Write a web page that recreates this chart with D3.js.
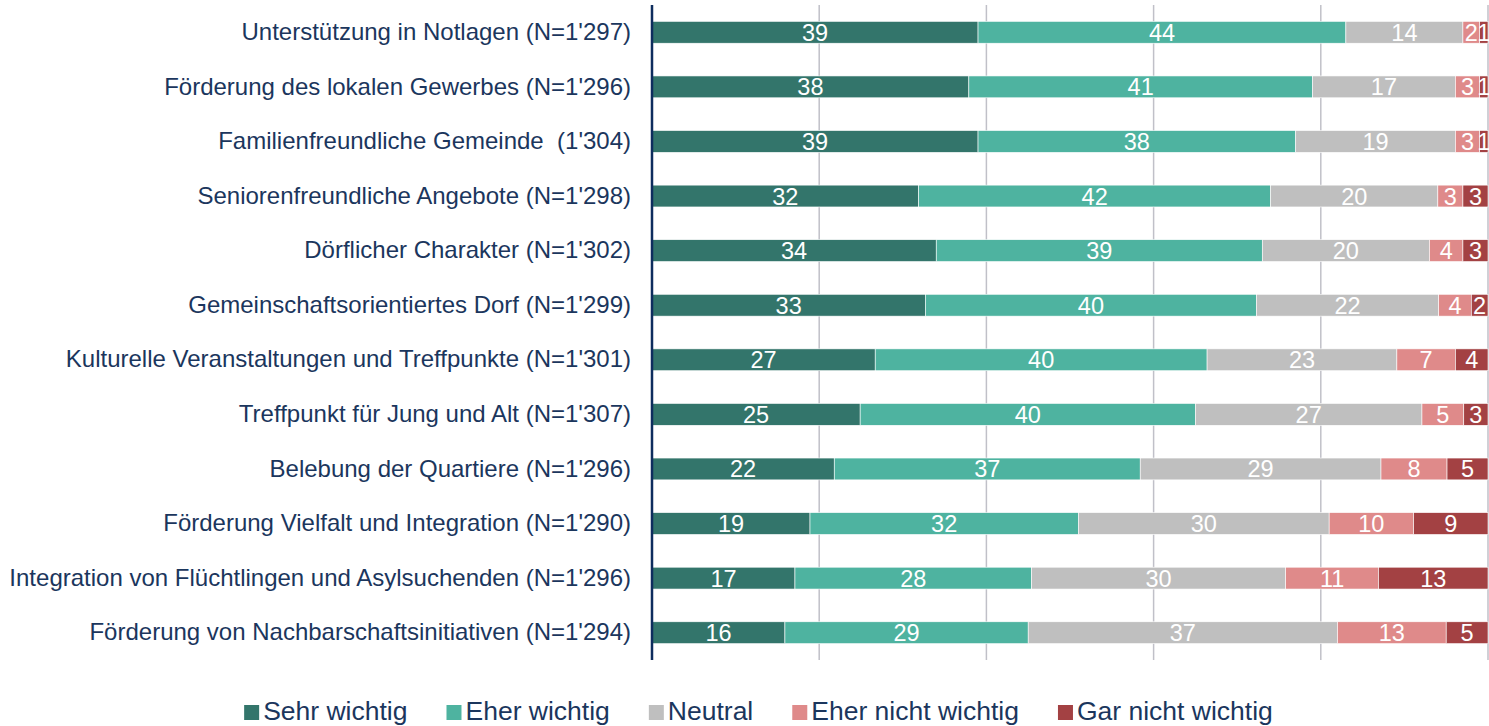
<!DOCTYPE html>
<html>
<head>
<meta charset="utf-8">
<script src="https://cdn.jsdelivr.net/npm/d3@7"></script>
<style>
  body { margin: 0; background: #fff; }
  svg text { font-family: "Liberation Sans", Arial, sans-serif; }
</style>
</head>
<body>
<div id="chart"></div>
<script>

// categories, top to bottom
var categories = [
  "Unterstützung in Notlagen (N=1'297)",
  "Förderung des lokalen Gewerbes (N=1'296)",
  "Familienfreundliche Gemeinde  (1'304)",
  "Seniorenfreundliche Angebote (N=1'298)",
  "Dörflicher Charakter (N=1'302)",
  "Gemeinschaftsorientiertes Dorf (N=1'299)",
  "Kulturelle Veranstaltungen und Treffpunkte (N=1'301)",
  "Treffpunkt für Jung und Alt (N=1'307)",
  "Belebung der Quartiere (N=1'296)",
  "Förderung Vielfalt und Integration (N=1'290)",
  "Integration von Flüchtlingen und Asylsuchenden (N=1'296)",
  "Förderung von Nachbarschaftsinitiativen (N=1'294)"
];

// shares in percent
var sehrWichtig      = [39.0, 37.9, 39.0, 31.9, 34.0, 32.7, 26.7, 24.9, 21.8, 18.9, 17.1, 15.9];
var eherWichtig      = [44.0, 41.1, 38.0, 42.1, 39.0, 39.6, 39.7, 40.1, 36.6, 32.1, 28.3, 29.1];
var neutral          = [14.0, 17.1, 19.1, 20.0, 20.0, 21.8, 22.7, 27.1, 28.8, 30.0, 30.4, 37.0];
var eherNichtWichtig = [ 2.0,  2.9,  2.9,  3.0,  4.0,  3.9,  7.0,  5.0,  7.9, 10.1, 11.1, 13.0];
var garNichtWichtig  = [ 1.0,  1.0,  1.0,  3.0,  3.0,  2.0,  3.9,  2.9,  4.9,  8.9, 13.1,  5.0];

var seriesNames  = ["Sehr wichtig", "Eher wichtig", "Neutral", "Eher nicht wichtig", "Gar nicht wichtig"];
var seriesColors = ["#33756B", "#4EB3A0", "#BFBFBF", "#DF8A8A", "#A34143"];
var gridTicks    = [0, 20, 40, 60, 80, 100];

var W = 1489, H = 726;
var textColor = "#1B365D";

var rows = categories.map(function(c, i) {
  return {
    cat: c,
    "Sehr wichtig": sehrWichtig[i],
    "Eher wichtig": eherWichtig[i],
    "Neutral": neutral[i],
    "Eher nicht wichtig": eherNichtWichtig[i],
    "Gar nicht wichtig": garNichtWichtig[i]
  };
});

var stacked = d3.stack().keys(seriesNames)(rows);

var x = d3.scaleLinear().domain([0, 100]).range([652, 1488]);
var y = d3.scaleBand()
          .domain(categories)
          .range([5, 660])
          .paddingInner(0.6)
          .paddingOuter(0.3);
var color = d3.scaleOrdinal().domain(seriesNames).range(seriesColors);

var svg = d3.select("#chart").append("svg")
    .attr("width", W)
    .attr("height", H);

// vertical gridlines
svg.append("g")
  .selectAll("line")
  .data(gridTicks.slice(1))
  .enter().append("line")
    .attr("x1", function(d) { return x(d); })
    .attr("x2", function(d) { return x(d); })
    .attr("y1", 5)
    .attr("y2", 660)
    .attr("stroke", "#C0C0C8")
    .attr("stroke-width", 1.5);

// bars
var layer = svg.append("g")
  .selectAll("g")
  .data(stacked)
  .enter().append("g")
    .attr("fill", function(d) { return color(d.key); });

layer.selectAll("rect")
    .data(function(d) { return d; })
  .enter().append("rect")
    .attr("x", function(d) { return x(d[0]); })
    .attr("y", function(d) { return y(d.data.cat); })
    .attr("width", function(d) { return x(d[1]) - x(d[0]); })
    .attr("height", y.bandwidth())
    .attr("stroke", "#fff")
    .attr("stroke-width", 0.6);

// value labels
layer.selectAll("text")
    .data(function(d) { return d; })
  .enter().append("text")
    .attr("x", function(d) { return (x(d[0]) + x(d[1])) / 2; })
    .attr("y", function(d) { return y(d.data.cat) + y.bandwidth() / 2; })
    .attr("dy", "0.36em")
    .attr("text-anchor", "middle")
    .attr("fill", "#fff")
    .style("font-size", "23.5px")
    .text(function(d) { return Math.round(d[1] - d[0]); });

// y axis
var yAxis = svg.append("g")
    .attr("transform", "translate(652,0)")
    .call(d3.axisLeft(y).tickSize(0).tickPadding(21));
yAxis.select(".domain").remove();
svg.append("line")
    .attr("x1", 652).attr("x2", 652)
    .attr("y1", 5).attr("y2", 660)
    .attr("stroke", "#0E2D5E")
    .attr("stroke-width", 2.5);
yAxis.selectAll("text")
    .attr("fill", textColor)
    .style("font-size", "24px")
    .style("white-space", "pre");

// legend
var legend = svg.append("g");
var items = legend.selectAll("g")
  .data(seriesNames)
  .enter().append("g");
items.append("rect")
    .attr("width", 15)
    .attr("height", 15)
    .attr("y", -15)
    .attr("fill", function(d) { return color(d); });
items.append("text")
    .attr("x", 19)
    .attr("fill", textColor)
    .style("font-size", "26.5px")
    .text(function(d) { return d; });

var pos = 0;
items.each(function() {
  var w = this.querySelector("text").getComputedTextLength();
  d3.select(this).attr("transform", "translate(" + pos + ",0)");
  pos += 19 + w + 39;
});
var total = pos - 39;
legend.attr("transform", "translate(" + (758.5 - total / 2) + ",720)");

</script>
</body>
</html>
